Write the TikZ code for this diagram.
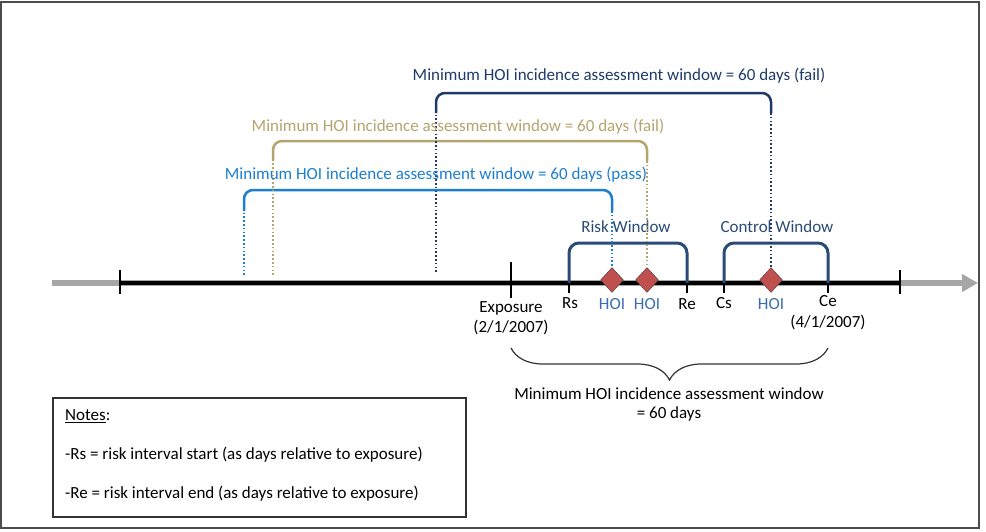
\documentclass[tikz,border=0pt]{standalone}
\usepackage{fontspec}
\setmainfont{Carlito}
\usetikzlibrary{arrows,arrows.meta,positioning,shapes,calc,shapes.geometric,decorations.pathreplacing}
\definecolor{navyline}{HTML}{1F3A68}
\definecolor{oliveline}{HTML}{B4A46E}
\definecolor{blueline}{HTML}{1C7ED0}
\definecolor{winline}{HTML}{2A4A78}
\definecolor{hoired}{HTML}{C0504D}
\definecolor{hoitext}{HTML}{3A6CB2}

\begin{document}
\begin{tikzpicture}[x=1pt, y=-1pt, font=\fontsize{17}{19}\selectfont,
    tick/.style={line width=2.5pt},
    win/.style={winline, line width=3pt, rounded corners=10pt},
    bar/.style={line width=2.5pt, rounded corners=9pt},
    dots/.style={line width=2pt, dash pattern=on 1.6pt off 2.2pt},
    hoi/.style={diamond, draw=black!75, fill=hoired, inner sep=0pt, minimum width=23pt, minimum height=25pt},
    lbl/.style={inner sep=0pt}]
      \useasboundingbox (0,0) rectangle (986,531);
      \draw[line width=2pt, black!70] (1,2) rectangle (979,528);
      %axis
      \coordinate (g0) at (52,283);
      \coordinate (g1) at (978,283);
      \coordinate (a0) at (120,283);
      \coordinate (a1) at (900,283);
      \coordinate (exp) at (511,283);
      \coordinate (rs) at (569,283);
      \coordinate (re) at (687,283);
      \coordinate (cs) at (724,283);
      \coordinate (ce) at (828,283);
      \draw[line width=6pt, black!35, -{Triangle[length=16pt,width=17pt]}] (g0) -- (g1);
      \draw[line width=4.5pt] (a0) -- (a1);
      \draw[tick] (a0) ++(0,-13) -- ++(0,24);
      \draw[tick] (a1) ++(0,-13) -- ++(0,24);
      \draw[tick] (exp) ++(0,-21) -- ++(0,36);
      \draw[tick] (rs) -- ++(0,10);
      \draw[tick] (re) -- ++(0,10);
      \draw[tick] (cs) -- ++(0,10);
      \draw[tick] (ce) -- ++(0,10);
      %windows
      \draw[win] (rs) -- ++(0,-40) -| (re);
      \draw[win] (cs) -- ++(0,-40) -| (ce);
      \node[lbl, winline] (rw) at (626,227) {Risk Window};
      \node[lbl, winline] (cw) at (777,227) {Control Window};
      %nodes
      \node[hoi] (h1) at (612,280) {};
      \node[hoi] (h2) at (647,280) {};
      \node[hoi] (h3) at (771,280) {};
      \node[lbl, hoitext] (t1) at (612,304) {HOI};
      \node[lbl, hoitext] (t2) at (647,304) {HOI};
      \node[lbl, hoitext] (t3) at (771,304) {HOI};
      \node[lbl] (lrs) at (570,303) {Rs};
      \node[lbl] (lre) at (687,304) {Re};
      \node[lbl] (lcs) at (724,303) {Cs};
      \node[lbl] (lce) at (828,301) {Ce};
      \node[lbl] (lexp) at (511,308) {Exposure};
      \node[lbl] (dexp) at (511,327) {(2/1/2007)};
      \node[lbl] (dce) at (828,322) {(4/1/2007)};
      %assessment windows
      \coordinate (p0) at (244,275);
      \coordinate (o0) at (273,275);
      \coordinate (n0) at (436,272);
      \draw[blueline, dots] (p0) -- (244,211);
      \draw[blueline, bar] (244,211) |- (612,190) -- (612,211);
      \draw[blueline, dots] (612,211) -- (h1.north);
      \draw[oliveline, dots] (o0) -- (273,161);
      \draw[oliveline, bar] (273,161) |- (647,141) -- (647,161);
      \draw[oliveline, dots] (647,161) -- (h2.north);
      \draw[navyline, dots] (n0) -- (436,113);
      \draw[navyline, bar] (436,113) |- (771,93) -- (771,113);
      \draw[navyline, dots] (771,113) -- (h3.north);
      \node[lbl, blueline] (mp) at (436,175) {Minimum HOI incidence assessment window = 60 days (pass)};
      \node[lbl, oliveline] (mo) at (458,127) {Minimum HOI incidence assessment window = 60 days (fail)};
      \node[lbl, navyline] (mn) at (619,76) {Minimum HOI incidence assessment window = 60 days (fail)};
      %total window
      \coordinate (b0) at (511,348);
      \coordinate (b1) at (828,348);
      \draw[line width=1.2pt, black!80, decorate, decoration={brace, mirror, amplitude=32pt}] (b0) -- (b1);
      \node[lbl] (tw1) at (669,394) {Minimum HOI incidence assessment window};
      \node[lbl] (tw2) at (669,414) {= 60 days};
      %notes
      \node[draw=black!80, line width=1.5pt, minimum width=413pt, minimum height=119pt] (notes) at (259.5,457.5) {};
      \node[lbl, anchor=west] (n1) at (65,416) {\underline{Notes}:};
      \node[lbl, anchor=west] (n2) at (65,455) {-Rs = risk interval start (as days relative to exposure)};
      \node[lbl, anchor=west] (n3) at (65,494) {-Re = risk interval end (as days relative to exposure)};
    \end{tikzpicture}
\end{document}
